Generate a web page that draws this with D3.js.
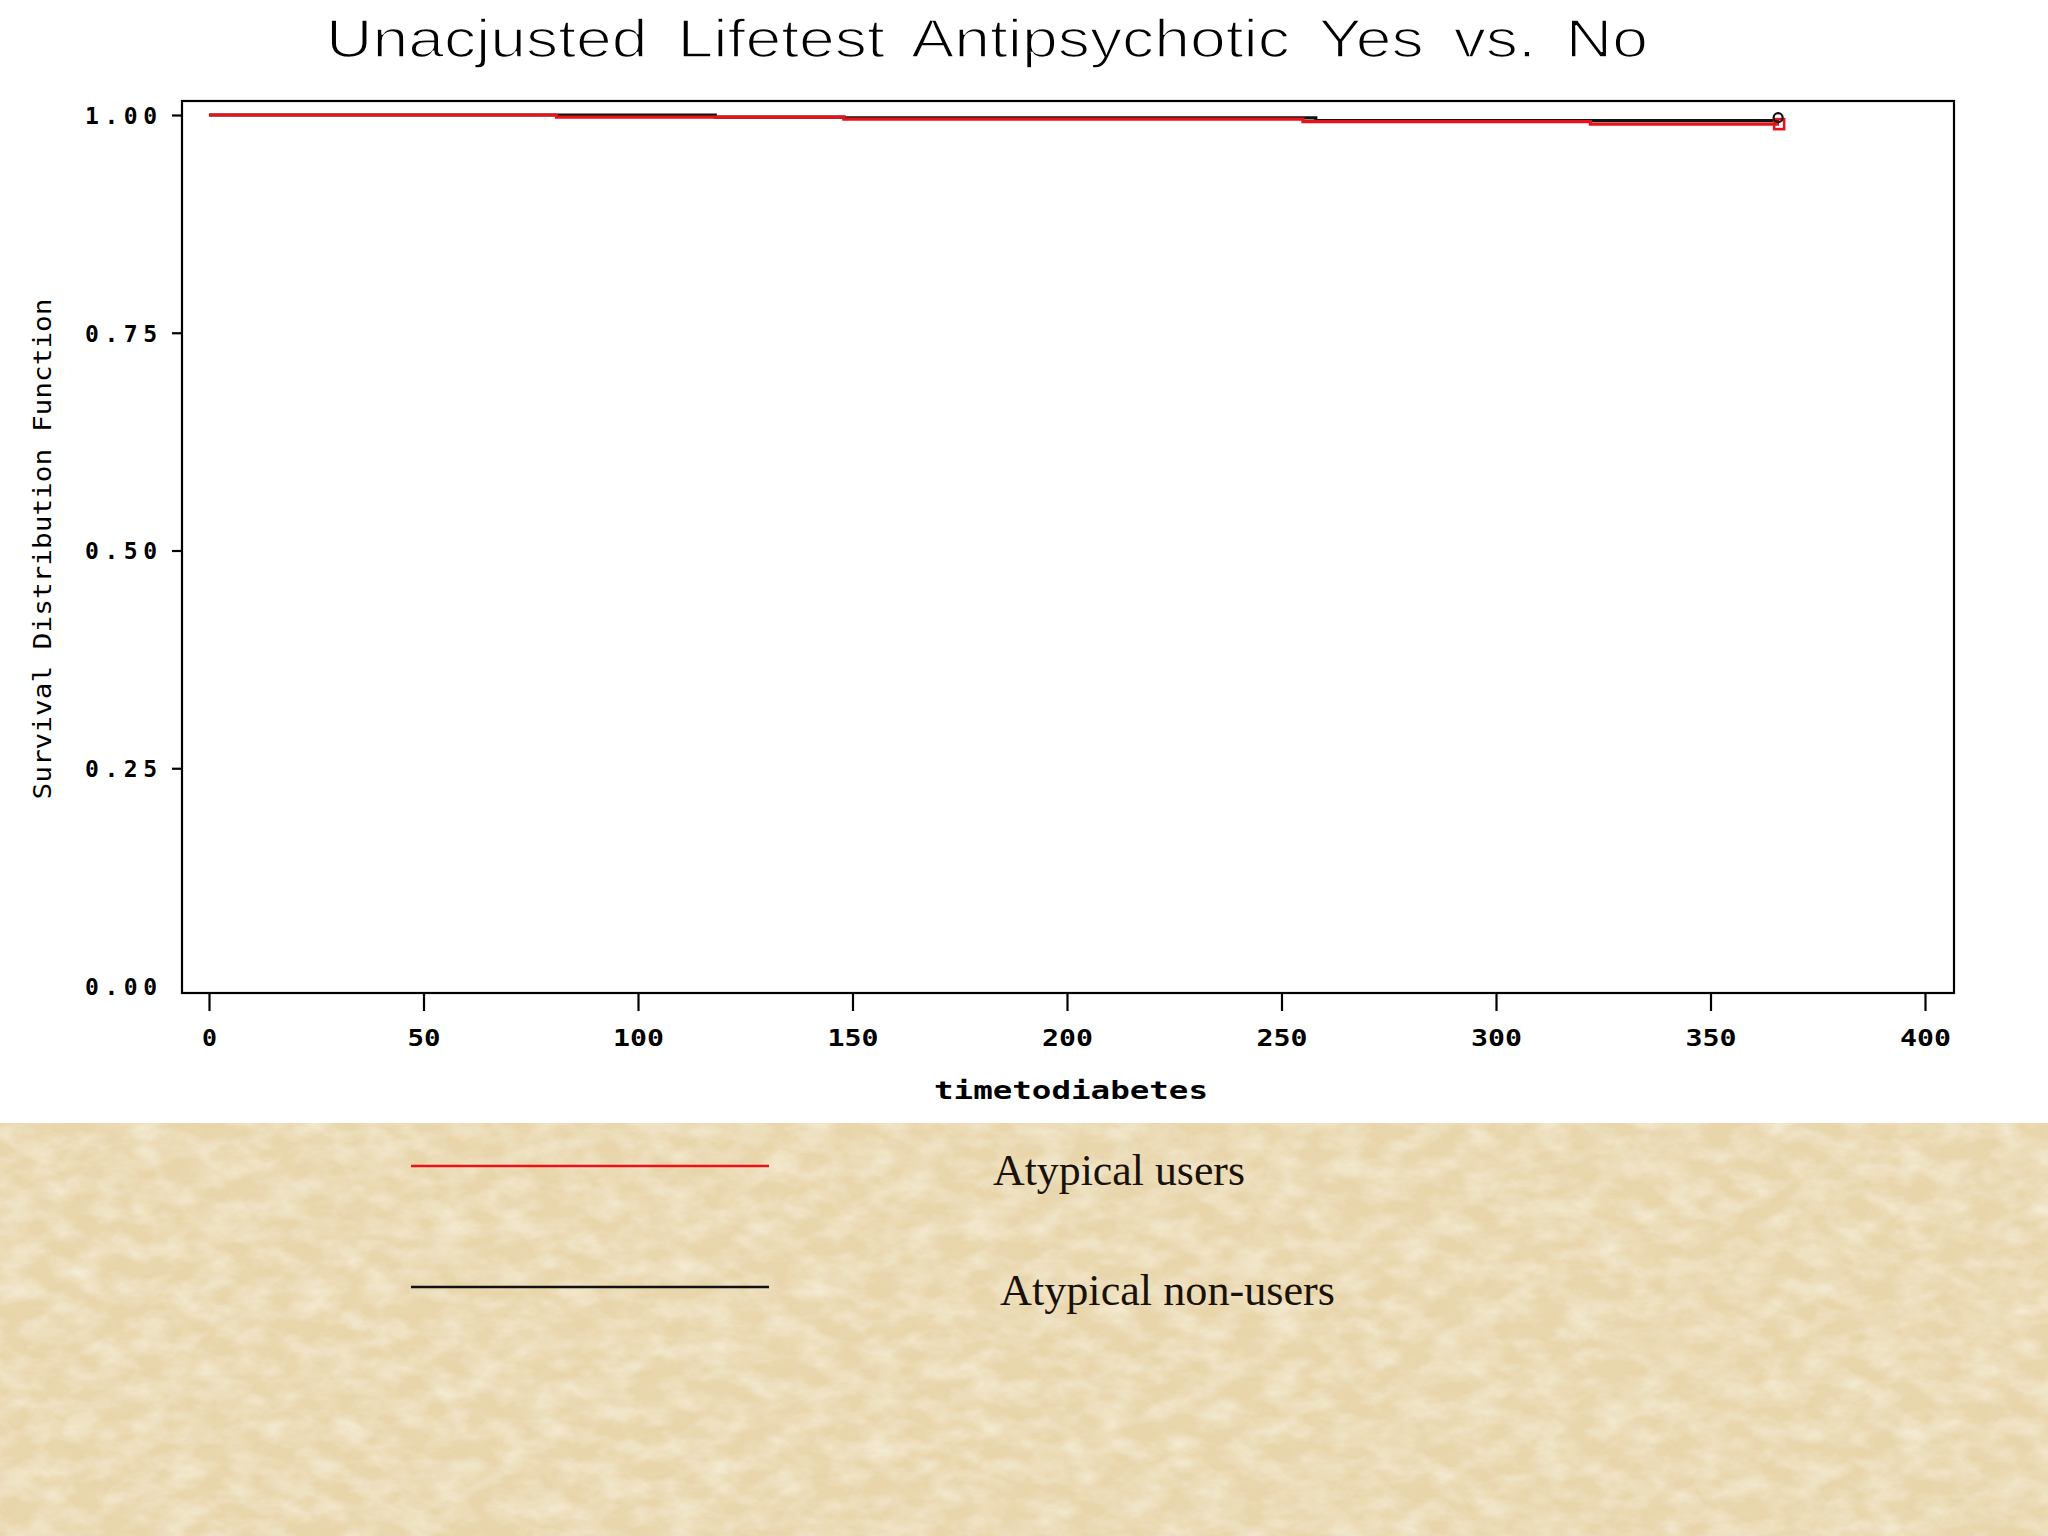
<!DOCTYPE html>
<html>
<head>
<meta charset="utf-8">
<script src="https://cdn.jsdelivr.net/npm/d3@7"></script>
<style>
  html, body { margin: 0; padding: 0; background: #ffffff; }
  svg { display: block; }
</style>
</head>
<body>
<svg id="chart" width="2048" height="1536"></svg>
<script>
// ---------- data ----------
const chartTitle = "Unacjusted Lifetest Antipsychotic Yes vs. No";
const xAxisTitle = "timetodiabetes";
const yAxisTitle = "Survival Distribution Function";
const timeTicks = [0, 50, 100, 150, 200, 250, 300, 350, 400];
const survTicks = [0, 0.25, 0.5, 0.75, 1.0];
const seriesNames = ["Atypical users", "Atypical non-users"];
const seriesColors = ["#e8121a", "#111111"];
// Atypical users (red) step function
const usersTime = [0, 81, 148, 255, 322, 366];
const usersSurv = [1.000, 0.9975, 0.9952, 0.9925, 0.9895, 0.9895];
// Atypical non-users (black) step function
const nonUsersTime = [0, 118, 148, 258, 366];
const nonUsersSurv = [1.000, 0.9975, 0.9968, 0.9935, 0.9935];
const censorTime = [366];

// ---------- layout ----------
const svg = d3.select("#chart");
const W = 2048, H = 1536;
const frame = { left: 182, right: 1954, top: 101, bottom: 993 };
const x = d3.scaleLinear().domain([0, 400]).range([209, 1925]);
const y = d3.scaleLinear().domain([0, 1]).range([986, 115]);

// defs: paper texture
const defs = svg.append("defs");
const f1 = defs.append("filter").attr("id", "paperLight")
  .attr("x", 0).attr("y", 0).attr("width", "100%").attr("height", "100%");
f1.append("feTurbulence").attr("type", "fractalNoise")
  .attr("baseFrequency", "0.03 0.05").attr("numOctaves", 4).attr("seed", 7);
f1.append("feColorMatrix").attr("type", "matrix")
  .attr("values", "0 0 0 0 0.97  0 0 0 0 0.94  0 0 0 0 0.84  1.1 0 0 0 -0.38");
const f2 = defs.append("filter").attr("id", "paperDark")
  .attr("x", 0).attr("y", 0).attr("width", "100%").attr("height", "100%");
f2.append("feTurbulence").attr("type", "fractalNoise")
  .attr("baseFrequency", "0.045 0.07").attr("numOctaves", 3).attr("seed", 21);
f2.append("feColorMatrix").attr("type", "matrix")
  .attr("values", "0 0 0 0 0.80  0 0 0 0 0.70  0 0 0 0 0.48  0.9 0 0 0 -0.36");

// background
svg.append("rect").attr("x", 0).attr("y", 0).attr("width", W).attr("height", H).attr("fill", "#ffffff");
const paperTop = 1123;
svg.append("rect").attr("x", 0).attr("y", paperTop).attr("width", W).attr("height", H - paperTop)
  .attr("fill", "#e8d5aa");
svg.append("rect").attr("x", 0).attr("y", paperTop).attr("width", W).attr("height", H - paperTop)
  .attr("filter", "url(#paperDark)");
svg.append("rect").attr("x", 0).attr("y", paperTop).attr("width", W).attr("height", H - paperTop)
  .attr("filter", "url(#paperLight)");

// title
svg.append("text")
  .attr("x", 326).attr("y", 57)
  .attr("textLength", 1322).attr("lengthAdjust", "spacingAndGlyphs")
  .attr("font-family", "'Liberation Sans', Arial, sans-serif")
  .attr("font-size", 53).attr("fill", "#000")
  .attr("stroke", "#fff").attr("stroke-width", 1.6)
  .attr("word-spacing", 10)
  .text(chartTitle);

// frame
svg.append("rect")
  .attr("x", frame.left).attr("y", frame.top)
  .attr("width", frame.right - frame.left).attr("height", frame.bottom - frame.top)
  .attr("fill", "#ffffff").attr("stroke", "#000").attr("stroke-width", 2.2);

// x axis
const gx = svg.append("g").attr("transform", `translate(0,${frame.bottom})`)
  .call(d3.axisBottom(x).tickValues(timeTicks).tickSize(18).tickFormat(d3.format("d")));
gx.select(".domain").remove();
gx.selectAll(".tick line").attr("stroke", "#000").attr("stroke-width", 2.2);
gx.selectAll(".tick text")
  .attr("y", 45).attr("dy", "0.36em")
  .attr("font-family", "'DejaVu Sans Mono', monospace").attr("font-weight", "bold")
  .attr("font-size", 23).attr("fill", "#000")
  .attr("textLength", d => String(d).length * 18 - 3).attr("lengthAdjust", "spacingAndGlyphs");

// y axis
const gy = svg.append("g").attr("transform", `translate(${frame.left},0)`)
  .call(d3.axisLeft(y).tickValues(survTicks).tickSize(10).tickFormat(d3.format(".2f")));
gy.select(".domain").remove();
gy.selectAll(".tick line").attr("stroke", "#000").attr("stroke-width", 2.2)
  .attr("opacity", d => d === 0 ? 0 : 1);
gy.selectAll(".tick text")
  .attr("x", -25).attr("dy", "0.36em")
  .attr("font-family", "'DejaVu Sans Mono', monospace").attr("font-weight", "bold")
  .attr("font-size", 23).attr("fill", "#000")
  .attr("textLength", 72).attr("lengthAdjust", "spacing");

// axis titles
svg.append("text")
  .attr("transform", "translate(51,549) rotate(-90)")
  .attr("text-anchor", "middle")
  .attr("textLength", 501).attr("lengthAdjust", "spacingAndGlyphs")
  .attr("font-family", "'DejaVu Sans Mono', monospace")
  .attr("font-size", 24).attr("fill", "#000")
  .text(yAxisTitle);
svg.append("text")
  .attr("x", 1071).attr("y", 1099)
  .attr("text-anchor", "middle")
  .attr("textLength", 274).attr("lengthAdjust", "spacingAndGlyphs")
  .attr("font-family", "'DejaVu Sans Mono', monospace").attr("font-weight", "bold")
  .attr("font-size", 24).attr("fill", "#000")
  .text(xAxisTitle);

// step lines
const line = d3.line().x(d => x(d[0])).y(d => y(d[1])).curve(d3.curveStepAfter);
const nonUsers = d3.zip(nonUsersTime, nonUsersSurv);
const users = d3.zip(usersTime, usersSurv);
svg.append("path").datum(nonUsers).attr("d", line)
  .attr("fill", "none").attr("stroke", seriesColors[1]).attr("stroke-width", 3.2);
svg.append("path").datum(users).attr("d", line)
  .attr("fill", "none").attr("stroke", seriesColors[0]).attr("stroke-width", 3.2);

// censor markers
censorTime.forEach(t => {
  const yb = y(nonUsersSurv[nonUsersSurv.length - 1]);
  const yr = y(usersSurv[usersSurv.length - 1]);
  svg.append("rect").attr("x", x(t) - 5).attr("y", yr - 5).attr("width", 10).attr("height", 10)
    .attr("fill", "none").attr("stroke", seriesColors[0]).attr("stroke-width", 2.6);
  svg.append("circle").attr("cx", x(t) - 1).attr("cy", yb - 3).attr("r", 4.5)
    .attr("fill", "none").attr("stroke", seriesColors[1]).attr("stroke-width", 2.2);
});

// legend
const legendY = [1166, 1287];
const legendTextX = [993, 1000];
const legendTextY = [1185, 1305];
const legendTextLen = [252, 335];
seriesNames.forEach((name, i) => {
  svg.append("line").attr("x1", 411).attr("x2", 769)
    .attr("y1", legendY[i]).attr("y2", legendY[i])
    .attr("stroke", seriesColors[i]).attr("stroke-width", 2.5);
  svg.append("text").attr("x", legendTextX[i]).attr("y", legendTextY[i])
    .attr("textLength", legendTextLen[i]).attr("lengthAdjust", "spacingAndGlyphs")
    .attr("font-family", "'Liberation Serif', 'Times New Roman', serif")
    .attr("font-size", 44).attr("fill", "#1a1208")
    .text(name);
});
</script>
</body>
</html>
